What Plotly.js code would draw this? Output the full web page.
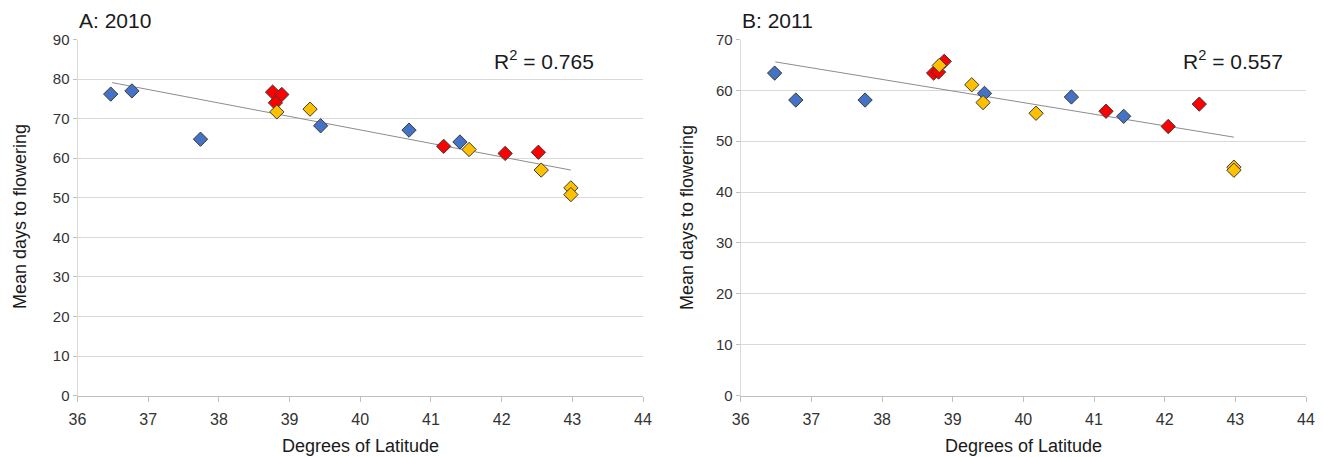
<!DOCTYPE html>
<html>
<head>
<meta charset="utf-8">
<script src="https://cdn.plot.ly/plotly-3.0.1.min.js"></script>
<style>html,body{margin:0;padding:0;background:#fff;}#chart{width:1323px;height:457px;}</style>
</head>
<body>
<div id="chart"></div>
<script>
// ---- Panel A: 2010 ----
const a_blue_x   = [36.47, 36.77, 37.74, 39.44, 40.69, 41.41];
const a_blue_y   = [76.2, 77.0, 64.8, 68.2, 67.1, 64.1];
const a_red_x    = [38.76, 38.89, 38.80, 41.18, 42.05, 42.52];
const a_red_y    = [76.7, 76.1, 74.0, 63.0, 61.2, 61.5];
const a_yellow_x = [38.82, 39.29, 41.54, 42.56, 42.98, 42.98];
const a_yellow_y = [71.7, 72.4, 62.2, 57.0, 52.5, 50.8];
const a_trend_x  = [36.49, 42.98];
const a_trend_y  = [79.1, 57.0];
const a_r2 = "0.765";

// ---- Panel B: 2011 ----
const b_blue_x   = [36.48, 36.78, 37.76, 39.45, 40.68, 41.42];
const b_blue_y   = [63.4, 58.1, 58.1, 59.4, 58.7, 54.9];
const b_red_x    = [38.73, 38.80, 38.88, 41.17, 42.05, 42.49];
const b_red_y    = [63.4, 63.6, 65.7, 55.9, 52.9, 57.3];
const b_yellow_x = [38.81, 39.27, 39.43, 40.18, 42.98, 42.98];
const b_yellow_y = [64.9, 61.1, 57.6, 55.5, 44.9, 44.3];
const b_trend_x  = [36.49, 42.98];
const b_trend_y  = [65.6, 50.8];
const b_r2 = "0.557";

const xTicks = [36, 37, 38, 39, 40, 41, 42, 43, 44];
const aYTicks = [0, 10, 20, 30, 40, 50, 60, 70, 80, 90];
const bYTicks = [0, 10, 20, 30, 40, 50, 60, 70];

const BLUE = "#4472C4", RED = "#FF0000", YEL = "#FFC000";
function pts(x, y, color, xa, ya) {
  return {x: x, y: y, xaxis: xa, yaxis: ya, type: "scatter", mode: "markers",
    marker: {symbol: "diamond", size: 11, color: color, line: {color: "#3a3a3a", width: 1}},
    hoverinfo: "x+y", showlegend: false};
}
function trend(x, y, xa, ya) {
  return {x: x, y: y, xaxis: xa, yaxis: ya, type: "scatter", mode: "lines",
    line: {color: "#8c8c8c", width: 1}, hoverinfo: "skip", showlegend: false};
}
const data = [
  trend(a_trend_x, a_trend_y, "x", "y"),
  pts(a_blue_x, a_blue_y, BLUE, "x", "y"),
  pts(a_red_x, a_red_y, RED, "x", "y"),
  pts(a_yellow_x, a_yellow_y, YEL, "x", "y"),
  trend(b_trend_x, b_trend_y, "x2", "y2"),
  pts(b_blue_x, b_blue_y, BLUE, "x2", "y2"),
  pts(b_red_x, b_red_y, RED, "x2", "y2"),
  pts(b_yellow_x, b_yellow_y, YEL, "x2", "y2")
];

const W = 1323, H = 457;
const xTickFont = {family: "Liberation Sans Narrow, Liberation Sans, Arial, sans-serif", size: 16, color: "#333333"};
const yTickFont = {family: "Liberation Sans, Arial, sans-serif", size: 15, color: "#333333"};
function xax(domain, anchor) {
  return {domain: domain, anchor: anchor, range: [36, 44], tickvals: xTicks, ticktext: xTicks.map(String),
    showgrid: false, zeroline: false, showline: true, linecolor: "#bfbfbf", linewidth: 1,
    ticks: "outside", ticklen: 5, tickcolor: "#bfbfbf", tickfont: xTickFont, ticklabelstandoff: 4,
    automargin: false, fixedrange: true};
}
function yax(domain, anchor, maxv, ticks) {
  return {domain: domain, anchor: anchor, range: [0, maxv], tickvals: ticks, ticktext: ticks.map(String),
    showgrid: true, gridcolor: "#d9d9d9", gridwidth: 1, zeroline: false, showline: true, linecolor: "#d9d9d9",
    ticks: "outside", ticklen: 4, tickcolor: "#bfbfbf", tickfont: yTickFont, automargin: false, fixedrange: true};
}
const yDom = [(H - 395.6) / H, (H - 39.5) / H];
const xDomA = [77.5 / W, 643 / W];
const xDomB = [740.7 / W, 1306 / W];

const titleFont = {family: "Liberation Sans, Arial, sans-serif", size: 21, color: "#1a1a1a"};
const axTitleFont = {family: "Liberation Sans, Arial, sans-serif", size: 18, color: "#1a1a1a"};
const annotations = [
  {text: "A: 2010", xref: "paper", yref: "paper", x: 77 / W, y: (H - 21) / H, xanchor: "left", yanchor: "middle", showarrow: false, font: titleFont},
  {text: "B: 2011", xref: "paper", yref: "paper", x: 740 / W, y: (H - 21) / H, xanchor: "left", yanchor: "middle", showarrow: false, font: titleFont},
  {text: "R<sup>2</sup> = " + a_r2, xref: "paper", yref: "paper", x: 596 / W, y: (H - 60) / H, xanchor: "right", yanchor: "middle", showarrow: false, font: titleFont},
  {text: "R<sup>2</sup> = " + b_r2, xref: "paper", yref: "paper", x: 1285 / W, y: (H - 60) / H, xanchor: "right", yanchor: "middle", showarrow: false, font: titleFont},
  {text: "Mean days to flowering", xref: "paper", yref: "paper", x: 20 / W, y: (H - 217) / H, xanchor: "center", yanchor: "middle", textangle: -90, showarrow: false, font: axTitleFont},
  {text: "Mean days to flowering", xref: "paper", yref: "paper", x: 687 / W, y: (H - 217) / H, xanchor: "center", yanchor: "middle", textangle: -90, showarrow: false, font: axTitleFont},
  {text: "Degrees of Latitude", xref: "paper", yref: "paper", x: 360 / W, y: (H - 446) / H, xanchor: "center", yanchor: "middle", showarrow: false, font: axTitleFont},
  {text: "Degrees of Latitude", xref: "paper", yref: "paper", x: 1023 / W, y: (H - 446) / H, xanchor: "center", yanchor: "middle", showarrow: false, font: axTitleFont}
];

const layout = {
  width: W, height: H,
  margin: {l: 0, r: 0, t: 0, b: 0},
  paper_bgcolor: "#ffffff", plot_bgcolor: "#ffffff",
  showlegend: false,
  xaxis: xax(xDomA, "y"),
  yaxis: yax(yDom, "x", 90, aYTicks),
  xaxis2: xax(xDomB, "y2"),
  yaxis2: yax(yDom, "x2", 70, bYTicks),
  annotations: annotations
};
Plotly.newPlot("chart", data, layout, {displayModeBar: false, staticPlot: true});
</script>
</body>
</html>
